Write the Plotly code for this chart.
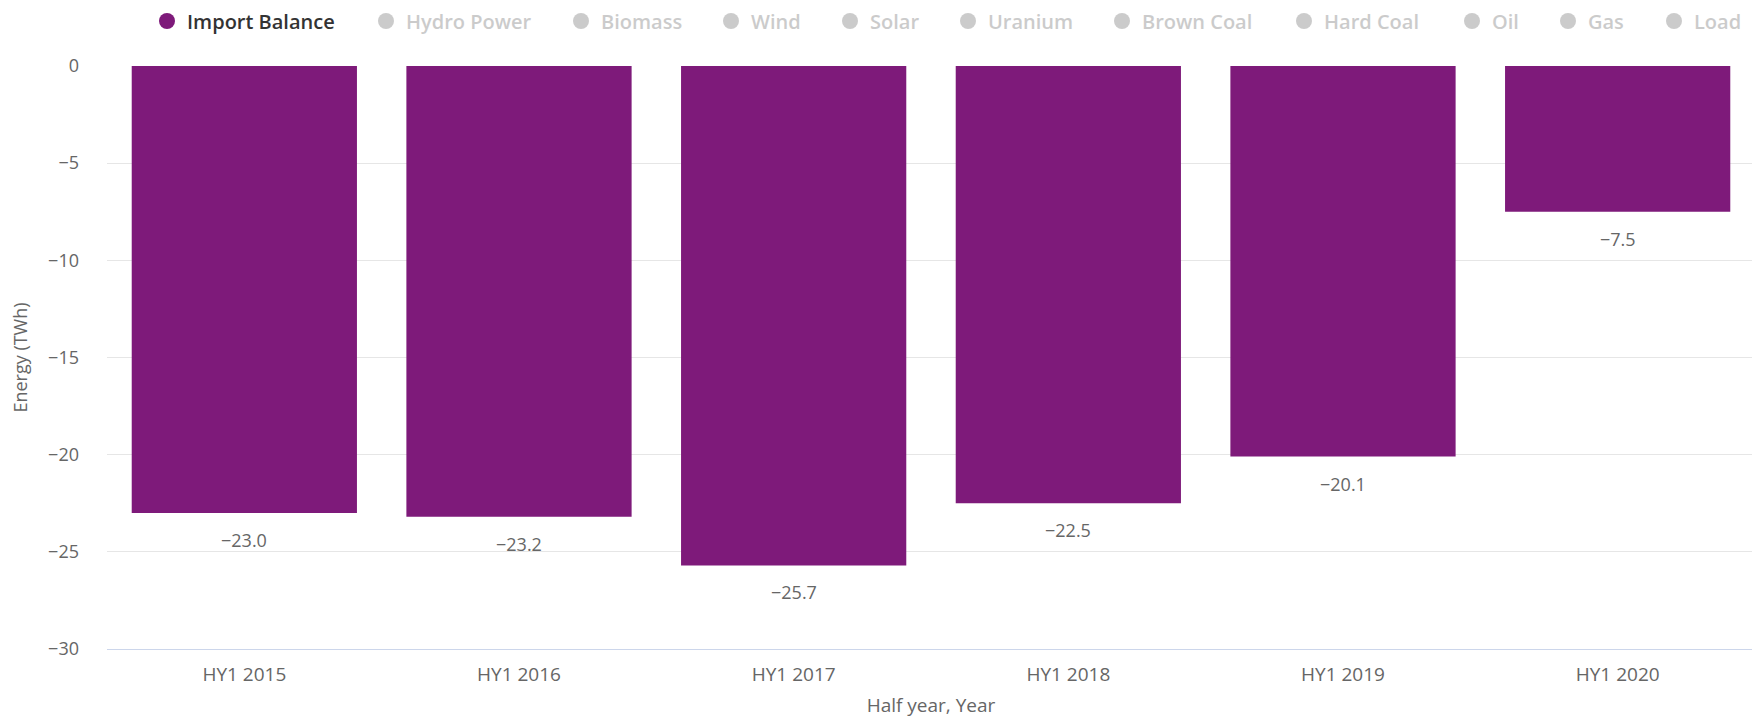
"""Import balance per half year, bar chart with a Highcharts-style legend."""

import plotly.graph_objects as go

categories = ["HY1 2015", "HY1 2016", "HY1 2017", "HY1 2018", "HY1 2019", "HY1 2020"]
import_balance = [-23.0, -23.2, -25.7, -22.5, -20.1, -7.5]
hidden_series = ["Hydro Power", "Biomass", "Wind", "Solar", "Uranium", "Brown Coal",
                 "Hard Coal", "Oil", "Gas", "Load"]
y_ticks = [0, -5, -10, -15, -20, -25, -30]

BAR = "#7E1A7A"
FONT = "Open Sans, Roboto, sans-serif"
# the page body adds an 8px margin, so the figure is a little smaller than the window
W, H = 1752, 710
# legend symbol centres (px from the figure's left edge), one per legend entry
LEGEND_X = [158, 377, 572, 722, 841, 959, 1113, 1295, 1463, 1559, 1665]
LEGEND_Y = 13


def minus(v, fmt="{:.1f}"):
    s = fmt.format(abs(v))
    return ("\u2212" + s) if v < 0 else s


fig = go.Figure()
fig.add_trace(go.Bar(
    x=categories, y=import_balance, marker_color=BAR, marker_line_width=0,
    showlegend=False, hoverinfo="x+y",
))
for cat, val in zip(categories, import_balance):
    fig.add_annotation(x=cat, y=val, yshift=-27, text=minus(val), showarrow=False,
                       yanchor="middle", font=dict(size=18, color="#666666", family=FONT))

# legend entries drawn as circles, each in its own legend box so spacing matches
legend_layouts = {}
names = ["Import Balance"] + hidden_series
for i, name in enumerate(names):
    key = "legend" if i == 0 else f"legend{i + 1}"
    hidden = i > 0
    fig.add_trace(go.Scatter(
        x=[None], y=[None], mode="markers", name=name,
        visible="legendonly" if hidden else True,
        marker=dict(color="#999999" if hidden else BAR, size=18, symbol="circle"),
        legend=key,
    ))
    legend_layouts[key] = dict(
        orientation="h", xref="container", yref="container",
        x=(LEGEND_X[i] - 19) / W, y=1 - LEGEND_Y / H, xanchor="left", yanchor="middle",
        font=dict(size=20, color="#999999" if hidden else "#333333", family=FONT, weight=600),
        bgcolor="rgba(0,0,0,0)",
    )

fig.update_layout(
    width=W, height=H,
    margin=dict(l=99, r=5, t=58, b=69, autoexpand=False),
    plot_bgcolor="white", paper_bgcolor="white",
    font=dict(family=FONT, color="#666666", size=18),
    bargap=0.18,
    xaxis=dict(
        title=dict(text="Half year, Year", font=dict(size=19, color="#666666"), standoff=15),
        showline=True, linecolor="#ccd6eb", linewidth=1, ticks="", showgrid=False,
        tickfont=dict(size=19, color="#666666"), ticklabelstandoff=8,
    ),
    yaxis=dict(
        title=dict(text="Energy (TWh)", font=dict(size=18, color="#666666"), standoff=17),
        range=[-30, 0], tickvals=y_ticks, ticktext=[minus(t, "{:g}") for t in y_ticks],
        showgrid=True, gridcolor="#e6e6e6",
        zeroline=False, showline=False, ticks="", ticklabelstandoff=27,
        tickfont=dict(size=18, color="#666666"),
    ),
    **legend_layouts,
)

fig.write_html("out.html")
